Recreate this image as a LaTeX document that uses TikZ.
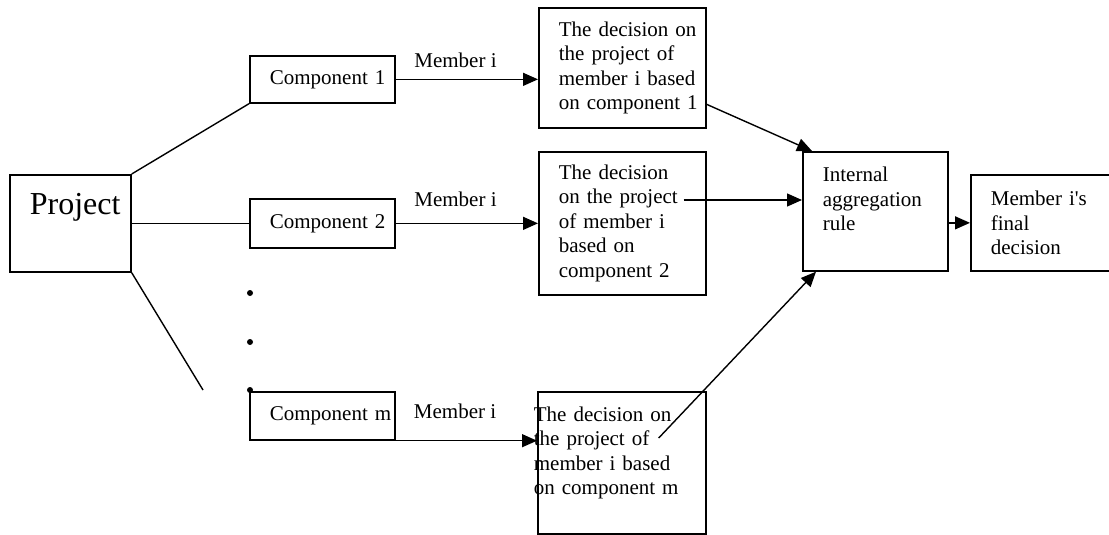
\documentclass[tikz,border=0pt]{standalone}
\usepackage{fontspec}
\setmainfont{Liberation Serif}[Ligatures=TeXOff]
\usetikzlibrary{arrows.meta,positioning,calc}
\hyphenpenalty=10000

\tikzset{
  box/.style={draw, rectangle, line width=1.7pt, anchor=north west, align=left,
    inner xsep=20pt, inner ysep=0pt},
  link/.style={line width=1.4pt},
  arr/.style={link, -{Triangle[length=15pt,width=13pt]}},
}

\begin{document}
\begin{tikzpicture}[x=1pt, y=-1pt, font=\fontsize{21}{24.5}\selectfont]
\useasboundingbox (0,0) rectangle (1109,535);

% project and its components
\node (project) [box, text width=81pt, minimum height=97pt, font=\fontsize{32}{38}\selectfont] at (9,174) {Project\\\mbox{}};
\node (comp1) [box, text width=105pt, minimum height=47pt] at (249,55) {Component~1};
\node (comp2) [box, text width=105pt, minimum height=49pt] at (249,198) {Component~2};
\node (compm) [box, text width=105pt, minimum height=48pt] at (249,391) {Component~m};

% decisions of member i
\node (dec1) [box, text width=127pt, minimum height=120pt] at (538,7) {The~decision~on\\the~project~of\\member~i~based\\on~component~1};
\node (dec2) [box, text width=127pt, minimum height=143pt] at (538,151) {The~decision\\on~the~project\\of~member~i\\based~on\\component~2};
\node (decm) [box, text width=176pt, inner xsep=-4pt, minimum height=142pt] at (537,391) {The~decision~on\\the~project~of\\member~i~based\\on~component~m\\\mbox{}};

% aggregation
\node (intag) [box, text width=105pt, minimum height=119pt] at (802,151) {Internal\\aggregation\\rule\\\mbox{}};
\node (final) [box, text width=102pt, minimum height=96pt] at (970,174) {Member~i's\\final\\decision};

\coordinate (cut) at (203,390);
\coordinate (d2out) at ([xshift=-23pt,yshift=-49pt]dec2.north east);
\coordinate (dmout) at ([xshift=-48pt,yshift=-47pt]decm.north east);

\draw[link] (project.north east) -- (comp1.south west);
\draw[link] (project.east) -- (comp2.west);
\draw[link] (project.south east) -- (cut);
\foreach \y in {293,342,390}
  \fill (250,\y) circle (3pt);

\draw[arr] (comp1.east) -- (comp1.east -| dec1.west) node[pos=0.42, above=7.7pt] {Member~i};
\draw[arr] (comp2.east) -- (comp2.east -| dec2.west) node[pos=0.42, above=12.5pt] {Member~i};
\draw[arr] (compm.south east) -- (compm.south east -| decm.west) node[pos=0.42, above=17.7pt] {Member~i};

\draw[arr] ($(dec1.north east)!0.8!(dec1.south east)$) -- ([xshift=10pt]intag.north west);
\draw[arr] (d2out) -- (d2out -| intag.west);
\draw[arr] (dmout) -- ([xshift=14pt]intag.south west);
\draw[arr] (intag.east |- final.west) -- (final.west);
\end{tikzpicture}
\end{document}
